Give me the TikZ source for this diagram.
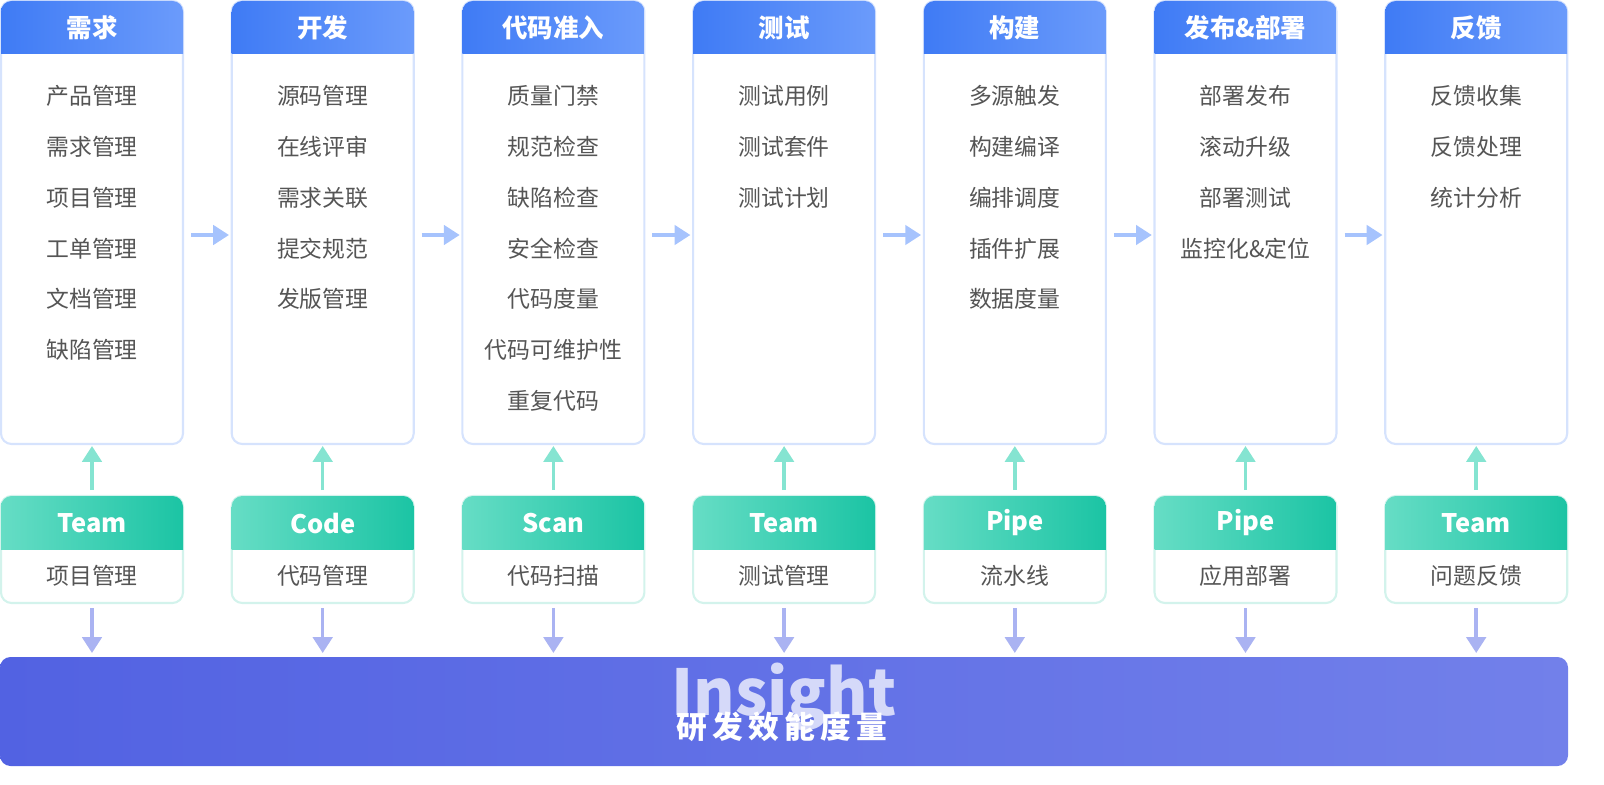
\documentclass[tikz,border=0pt]{standalone}
\usepackage{fontspec}
\setmainfont{Noto Sans CJK SC}
\usetikzlibrary{positioning,arrows.meta,calc}
\definecolor{hdblueA}{HTML}{3F7BF5}
\definecolor{hdblueB}{HTML}{6B9BFB}
\definecolor{cardline}{HTML}{D6E3FD}
\definecolor{greenA}{HTML}{66DDC5}
\definecolor{greenB}{HTML}{1BC4A4}
\definecolor{greenline}{HTML}{D3F3EC}
\definecolor{barA}{HTML}{5262E2}
\definecolor{barB}{HTML}{7280EA}
\definecolor{itemtext}{HTML}{555555}
\tikzset{
x=0.02cm, y=-0.02cm,
card/.style={draw=cardline, line width=1.2pt, rounded corners=6pt, fill=white},
tcard/.style={draw=greenline, line width=1.2pt, rounded corners=6pt, fill=white},
item/.style={text=itemtext, font=\fontsize{13}{15}\selectfont},
head/.style={text=white, font=\fontsize{14.5}{16}\selectfont\bfseries},
flow/.style={-{Triangle[length=9pt,width=11pt]}, line width=2pt, draw=hdblueB!60},
up/.style={-{Triangle[length=9pt,width=11pt]}, line width=2pt, draw=greenA!80},
down/.style={-{Triangle[length=9pt,width=11pt]}, line width=2pt, draw=barB!60}
}
\begin{document}
\begin{tikzpicture}
% stages
\foreach \i/\name/\items/\tool/\sub in {
 0/需求/{产品管理,需求管理,项目管理,工单管理,文档管理,缺陷管理}/Team/项目管理,
 1/开发/{源码管理,在线评审,需求关联,提交规范,发版管理}/Code/代码管理,
 2/代码准入/{质量门禁,规范检查,缺陷检查,安全检查,代码度量,代码可维护性,重复代码}/Scan/代码扫描,
 3/测试/{测试用例,测试套件,测试计划}/Team/测试管理,
 4/构建/{多源触发,构建编译,编排调度,插件扩展,数据度量}/Pipe/流水线,
 5/发布\&部署/{部署发布,滚动升级,部署测试,监控化\&定位}/Pipe/应用部署,
 6/反馈/{反馈收集,反馈处理,统计分析}/Team/问题反馈}{
  \pgfmathsetmacro{\xl}{1+230.7*\i}
  \pgfmathsetmacro{\xr}{\xl+182}
  \pgfmathsetmacro{\xm}{\xl+91}
  \draw[card] (\xl,1) rectangle (\xr,444);
  \begin{scope}
    \clip[rounded corners=6pt] (\xl,1) rectangle (\xr,80);
    \shade[left color=hdblueA, right color=hdblueB] (\xl,1) rectangle (\xr,54);
  \end{scope}
  \node[head] (stage\i) at (\xm,28) {\name};
  \foreach \t [count=\k from 0] in \items
    \node[item] at (\xm,96+50.8*\k) {\t};
  % tool card
  \draw[tcard] (\xl,496) rectangle (\xr,603);
  \begin{scope}
    \clip[rounded corners=6pt] (\xl,496) rectangle (\xr,580);
    \shade[left color=greenA, right color=greenB] (\xl,496) rectangle (\xr,549);
  \end{scope}
  \node[head] (tool\i) at (\xm,523) {\tool};
  \node[item] (sub\i) at (\xm,576) {\sub};
  \coordinate (ua\i) at (\xm,490);
  \coordinate (ub\i) at (\xm,446);
  \coordinate (da\i) at (\xm,608);
  \coordinate (db\i) at (\xm,653);
  \draw[up] (ua\i) -- (ub\i);
  \draw[down] (da\i) -- (db\i);
}
% flow arrows
\foreach \i in {0,...,5}{
  \pgfmathsetmacro{\xa}{191+230.7*\i}
  \coordinate (fa\i) at (\xa,235);
  \coordinate (fb\i) at (\xa+38,235);
  \draw[flow] (fa\i) -- (fb\i);
}
% insight bar
\shade[left color=barA, right color=barB, rounded corners=6pt] (0,657) rectangle (1568,766);
\node[text=white!70!barB, font=\fontsize{36}{38}\selectfont\bfseries] (insight) at (784,697) {Insight};
\node[text=white, font=\fontsize{17.5}{19}\selectfont\bfseries] (metric) at (782,727) {研\,发\,效\,能\,度\,量};
\pgfresetboundingbox
\useasboundingbox (0,0) rectangle (1604,784);
\end{tikzpicture}
\end{document}
